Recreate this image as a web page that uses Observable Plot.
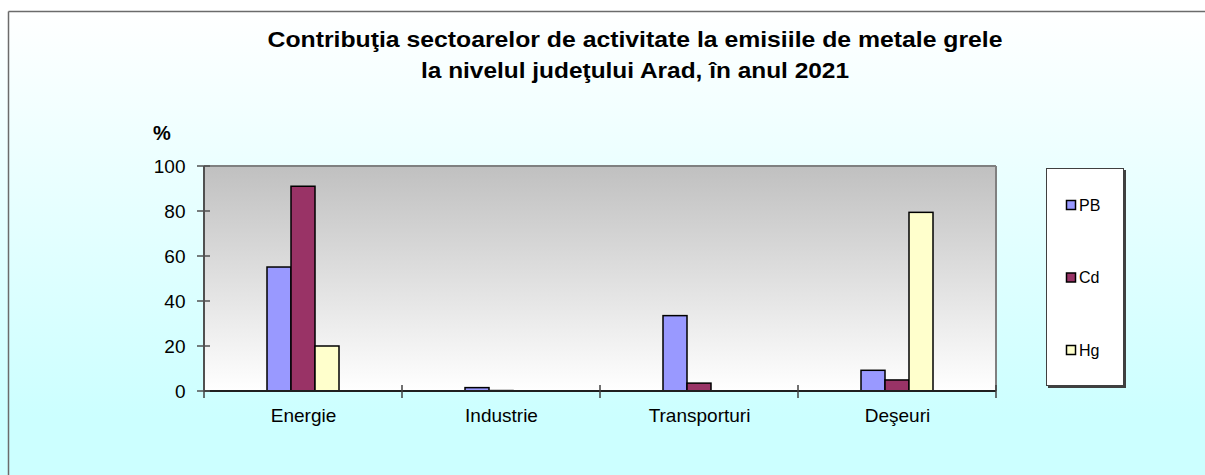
<!DOCTYPE html>
<html>
<head>
<meta charset="utf-8">
<script src="https://cdn.jsdelivr.net/npm/d3@7"></script>
<script src="https://cdn.jsdelivr.net/npm/@observablehq/plot@0.6"></script>
<style>
  html, body { margin: 0; padding: 0; background: #ffffff; }
  #chart svg { display: block; }
</style>
</head>
<body>
<div id="chart"></div>
<script>
// ---- data ----
const categories = ["Energie", "Industrie", "Transporturi", "Deşeuri"];
const seriesNames = ["PB", "Cd", "Hg"];
const valuesPB = [55.1, 1.5, 33.5, 9.2];
const valuesCd = [91.0, 0.2, 3.5, 4.9];
const valuesHg = [20.0, 0.1, 0, 79.4];
const seriesColors = ["#9999FF", "#993366", "#FFFFCC"];
const yTicks = [0, 20, 40, 60, 80, 100];
const titleLines = [
  "Contribuţia sectoarelor de activitate la emisiile de metale grele",
  "la nivelul judeţului Arad, în anul 2021"
];
const yUnit = "%";

const seriesValues = { PB: valuesPB, Cd: valuesCd, Hg: valuesHg };
const rows = [];
categories.forEach((c, i) => {
  seriesNames.forEach(s => rows.push({ category: c, series: s, value: seriesValues[s][i] }));
});

const FONT = "'Liberation Sans', Arial, Helvetica, sans-serif";

const plot = Plot.plot({
  width: 1205,
  height: 475,
  marginLeft: 202,
  marginRight: 208,
  marginTop: 166,
  marginBottom: 84,
  style: {
    background: "linear-gradient(to bottom, #ffffff 2%, #ccffff 88%)",
    fontFamily: FONT,
    fontSize: "19px",
    color: "#000000",
    overflow: "visible"
  },
  fx: { domain: categories, padding: 0, label: null, axis: "bottom", tickSize: 0, tickPadding: 17 },
  x: { domain: seriesNames, paddingInner: 0, paddingOuter: 2.475, axis: null },
  y: { domain: [0, 100], ticks: yTicks, tickSize: 0, tickPadding: 19, label: null },
  color: { domain: seriesNames, range: seriesColors },
  marks: [
    Plot.barY(rows, {
      filter: d => d.value > 0,
      fx: "category", x: "series", y: "value", fill: "series",
      stroke: "#000000", strokeWidth: 1.5, insetLeft: 0, insetRight: 0
    })
  ]
});

document.getElementById("chart").appendChild(plot);

const svg = d3.select(plot);
const fxS = plot.scale("fx");
const yS = plot.scale("y");
const colorS = plot.scale("color");
const left = fxS.apply(categories[0]);
const right = fxS.apply(categories[categories.length - 1]) + fxS.bandwidth;
const y0 = yS.apply(0);
const yTop = yS.apply(100);

// plot area background (single rect, behind all marks)
svg.insert("rect", ":first-child")
  .attr("x", left).attr("y", yTop).attr("width", right - left).attr("height", y0 - yTop)
  .attr("fill", "url(#plotAreaGrad)");
const defs = svg.insert("defs", ":first-child");
const grad = defs.append("linearGradient").attr("id", "plotAreaGrad")
  .attr("x1", 0).attr("y1", 0).attr("x2", 0).attr("y2", 1);
grad.append("stop").attr("offset", "0%").attr("stop-color", "#C0C0C0");
grad.append("stop").attr("offset", "100%").attr("stop-color", "#FFFFFF");

const deco = svg.append("g").attr("fill", "none");
// outer chart frame (left & top edges)
deco.append("line").attr("x1", 8.5).attr("y1", 11.5).attr("x2", 8.5).attr("y2", 475).attr("stroke", "#6b6b6b").attr("stroke-width", 1.5);
deco.append("line").attr("x1", 8.5).attr("y1", 11.5).attr("x2", 1205).attr("y2", 11.5).attr("stroke", "#6b6b6b").attr("stroke-width", 1.5);
// plot area borders
deco.append("line").attr("x1", left).attr("y1", yTop).attr("x2", right).attr("y2", yTop).attr("stroke", "#808080").attr("stroke-width", 2);
deco.append("line").attr("x1", right).attr("y1", yTop).attr("x2", right).attr("y2", y0).attr("stroke", "#808080").attr("stroke-width", 2);
deco.append("line").attr("x1", left).attr("y1", yTop).attr("x2", left).attr("y2", y0).attr("stroke", "#505050").attr("stroke-width", 2);
deco.append("line").attr("x1", left).attr("y1", y0).attr("x2", right).attr("y2", y0).attr("stroke", "#202020").attr("stroke-width", 2);
// y ticks (cross)
yTicks.forEach(t => {
  const yy = yS.apply(t);
  deco.append("line").attr("x1", left - 7).attr("x2", left + 6).attr("y1", yy).attr("y2", yy)
    .attr("stroke", "#505050").attr("stroke-width", 1.5);
});
// x boundary ticks
const bounds = categories.map(c => fxS.apply(c)).concat([right]);
bounds.forEach((b, i) => {
  deco.append("line").attr("x1", b).attr("x2", b).attr("y1", i === 0 ? y0 : y0 - 6).attr("y2", y0 + 7)
    .attr("stroke", "#404040").attr("stroke-width", 1.5);
});

// title
const title = svg.append("g").attr("font-family", FONT).attr("font-weight", "bold").attr("font-size", 22)
  .attr("text-anchor", "middle").attr("fill", "#000");
title.append("text").attr("x", 635).attr("y", 47).attr("textLength", 735).attr("lengthAdjust", "spacingAndGlyphs").text(titleLines[0]);
title.append("text").attr("x", 635).attr("y", 78).attr("textLength", 428).attr("lengthAdjust", "spacingAndGlyphs").text(titleLines[1]);

// unit label
svg.append("text").attr("x", 162).attr("y", 140).attr("text-anchor", "middle")
  .attr("font-family", FONT).attr("font-weight", "bold").attr("font-size", 20).text(yUnit);

// legend
const lg = svg.append("g").attr("font-family", FONT).attr("font-size", 16).attr("text-anchor", "start");
lg.append("rect").attr("x", 1048).attr("y", 170).attr("width", 78).attr("height", 218).attr("fill", "#404040");
lg.append("rect").attr("x", 1046.5).attr("y", 168.5).attr("width", 77).attr("height", 217)
  .attr("fill", "#ffffff").attr("stroke", "#404040").attr("stroke-width", 1);
const legendY = [205, 277.5, 350];
seriesNames.forEach((s, i) => {
  lg.append("rect").attr("x", 1066.5).attr("y", legendY[i] - 4.5).attr("width", 9).attr("height", 9)
    .attr("fill", colorS.apply(s)).attr("stroke", "#000").attr("stroke-width", 1.5);
  lg.append("text").attr("x", 1079).attr("y", legendY[i]).attr("dy", "0.36em").attr("text-anchor", "start").text(s);
});
</script>
</body>
</html>
